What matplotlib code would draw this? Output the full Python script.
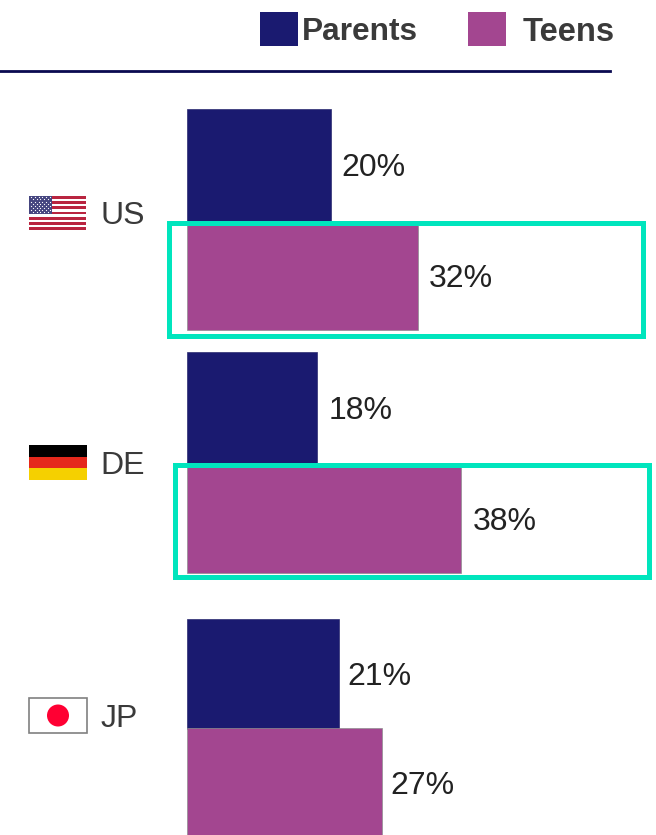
import matplotlib
matplotlib.use('Agg')
import matplotlib.pyplot as plt
from matplotlib.patches import Rectangle, Circle

plt.rcParams['font.family'] = ['Liberation Sans', 'DejaVu Sans']

countries = ['US', 'DE', 'JP']
parents = [20, 18, 21]
teens = [32, 38, 27]
series_names = ['Parents', 'Teens']

W, H = 656, 835
NAVY = '#1a1a70'
PURPLE = '#a34690'
GREEN = '#00e5bd'
DARK = '#3a3a3a'
PX_PER_PCT = 7.22
X0 = 187

# bar spans in pixels from the top, groups are not evenly spaced
parent_spans = [(109, 222), (352, 465), (619, 729)]
teen_spans = [(225, 330), (467, 573), (728, 838)]
value_y = [168, 411, 677]
teen_value_y = [279, 522, 786]
parent_text_gap = [1.35, 1.65, 1.2]
teen_text_gap = [1.5, 1.6, 1.2]
label_y = [216, 466, 719]
flag_boxes = [(29, 196, 57, 34), (29, 445, 58, 35), (29, 698, 58, 35)]
highlights = [(169.5, 222.5, 474, 113.5), (175.5, 464.5, 473, 112)]

fig = plt.figure(figsize=(W / 100, H / 100), dpi=100)

# overlay in pixel coords for legend, rule, flags
bg = fig.add_axes([0, 0, 1, 1])
bg.set_xlim(0, W)
bg.set_ylim(H, 0)
bg.axis('off')

ax = fig.add_axes([X0 / W, 0, 1 - X0 / W, 1])
ax.set_xlim(0, (W - X0) / PX_PER_PCT)
ax.set_ylim(H, 0)
ax.axis('off')
ax.patch.set_alpha(0)


def draw_bars(values, spans, text_y, gaps, color, edge):
    for v, s, ty, g in zip(values, spans, text_y, gaps):
        ax.barh((s[0] + s[1]) / 2, v, height=s[1] - s[0], color=color,
                edgecolor=edge, linewidth=0.5)
        ax.text(v + g, ty, '%d%%' % v, fontsize=23, color='#222222',
                va='center', ha='left')


draw_bars(parents, parent_spans, value_y, parent_text_gap, NAVY, '#2b2b70')
draw_bars(teens, teen_spans, teen_value_y, teen_text_gap, PURPLE, '#8f8f8f')

for x, y, w, h in highlights:
    ax.add_patch(Rectangle(((x - X0) / PX_PER_PCT, y), w / PX_PER_PCT, h, fill=False,
                           edgecolor=GREEN, linewidth=3.6, clip_on=False, zorder=5))

# legend
bg.add_patch(Rectangle((260, 12), 38, 34, color=NAVY, lw=0))
bg.add_patch(Rectangle((468, 12), 38, 34, color=PURPLE, lw=0))
bg.text(302, 32.5, series_names[0], fontsize=22.8, fontweight='bold', color=DARK, va='center')
bg.text(523, 32.5, series_names[1], fontsize=23.6, fontweight='bold', color=DARK, va='center')
bg.plot([0, 610], [71, 71], color='#0a0a50', lw=2)

# country labels
for name, y in zip(countries, label_y):
    bg.text(100.5, y, name, fontsize=23, color=DARK, va='center')

# US flag
x, y, w, h = flag_boxes[0]
sh = h / 13
for i in range(13):
    c = '#b92540' if i % 2 == 0 else '#ffffff'
    bg.add_patch(Rectangle((x, y + i * sh), w, sh, color=c, lw=0))
bg.add_patch(Rectangle((x, y), w * 0.4, sh * 7, color='#45457f', lw=0))
for r in range(9):
    n = 6 if r % 2 == 0 else 5
    off = 1.9 if r % 2 == 0 else 3.8
    for k in range(n):
        bg.plot(x + off + k * 3.8, y + 1.4 + r * 2.05, 'o', ms=0.9, color='white', mew=0)

# German flag
x, y, w, h = flag_boxes[1]
for i, c in enumerate(['#000000', '#e5281c', '#f5d000']):
    bg.add_patch(Rectangle((x, y + i * h / 3), w, h / 3, color=c, lw=0))

# Japanese flag
x, y, w, h = flag_boxes[2]
bg.add_patch(Rectangle((x, y), w, h, facecolor='white', edgecolor='#808080', lw=1.2))
bg.add_patch(Circle((x + w / 2, y + h / 2), 11, color='#ff0033', lw=0))

fig.savefig('out.png', dpi=100)
